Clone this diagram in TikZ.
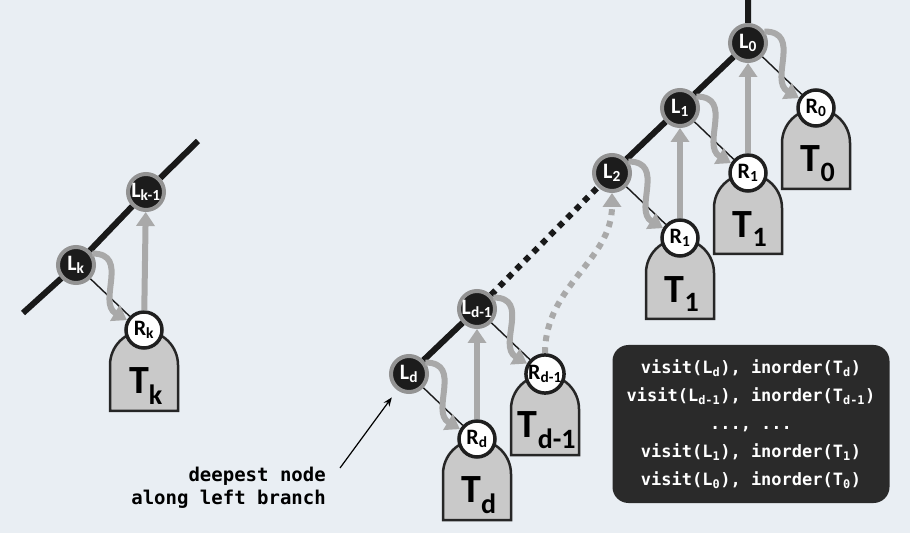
\documentclass[tikz,border=0pt]{standalone}
\usepackage{fontspec}
\setmainfont{Carlito}
\newfontfamily\codefont{DejaVu Sans Mono}
\usetikzlibrary{positioning,calc,arrows.meta,backgrounds}

\definecolor{bgcol}{HTML}{E9EEF3}
\definecolor{lfill}{HTML}{1C1C1C}
\definecolor{lring}{HTML}{939393}
\definecolor{climbgray}{HTML}{A9A9A9}
\definecolor{treefill}{HTML}{C9C9C9}
\definecolor{boxfill}{HTML}{2A2A2A}

\tikzset{
	lnode/.style={circle, fill=lfill, draw=lring, line width=4pt, minimum size=36pt, inner sep=0pt, text=white, font=\fontsize{22}{22}\selectfont\bfseries},
	rnode/.style={circle, fill=white, draw=black!88, line width=3.5pt, minimum size=36pt, inner sep=0pt, font=\fontsize{22}{22}\selectfont\bfseries},
	spine/.style={line width=6pt, draw=black!90},
	dotspine/.style={spine, dash pattern=on 6pt off 6pt},
	child/.style={line width=1.4pt, draw=black!90},
	visit/.style={line width=6pt, draw=climbgray, -{Triangle[width=18pt,length=14pt]}},
	climbdots/.style={visit, dash pattern=on 6pt off 6pt},
	treebox/.style={fill=treefill, draw=black!85, line width=2.5pt},
	tlabel/.style={inner sep=0pt, font=\fontsize{40}{40}\selectfont\bfseries},
	codebox/.style={fill=boxfill, rounded corners=16pt, minimum width=277pt, minimum height=158pt, text=white, align=center, font=\fontsize{17}{28}\selectfont\codefont\bfseries},
	note/.style={inner sep=0pt, align=right, font=\fontsize{19}{23}\selectfont\codefont\bfseries},
	pointer/.style={line width=1.2pt, -{Stealth[length=9pt,width=7pt]}, shorten >=9pt}
}

\newcommand{\subtree}[3]{% dome hanging below an R node
	\draw[treebox] ($(#1)+(-34,-81)$) -- ++(0,46) arc[start angle=180, end angle=0, radius=34pt] -- ++(0,-46) -- cycle;
	\node[tlabel] (#2) at ($(#1)+(2,-56)$) {#3};
}

\begin{document}
\begin{tikzpicture}[x=1pt, y=1pt, on grid, node distance=65pt and 68pt]
	\useasboundingbox (0,0) rectangle (910,533);
	\begin{scope}[on background layer]
		\fill[bgcol] (0,0) rectangle (910,533);
	\end{scope}
	
	% Left fragment of the branch
	\node[lnode] (Lk) at (76,268) {L\textsubscript{k}};
	\node[lnode, above right=73pt and 70pt of Lk] (Lk1) {L\textsubscript{k-1}};
	\node[rnode, below right=of Lk] (Rk) {R\textsubscript{k}};
	\coordinate (spineA) at (23,220); % lower free end
	\coordinate (spineB) at (198,392); % upper free end
	
	% Right part of the branch
	\node[lnode] (L0) at (748,490) {L\textsubscript{0}};
	\node[lnode, below left=of L0] (L1) {L\textsubscript{1}};
	\node[lnode, below left=of L1] (L2) {L\textsubscript{2}};
	\node[lnode, below left=136pt and 135pt of L2] (Ldm1) {L\textsubscript{d-1}};
	\node[lnode, below left=of Ldm1] (Ld) {L\textsubscript{d}};
	\coordinate (top) at (748,545); % towards the root
	
	% Right children
	\node[rnode, below right=of L0] (R0) {R\textsubscript{0}};
	\node[rnode, below right=of L1] (R1) {R\textsubscript{1}};
	\node[rnode, below right=of L2] (R1b) {R\textsubscript{1}};
	\node[rnode, below right=of Ldm1] (Rdm1) {R\textsubscript{d-1}};
	\node[rnode, below right=of Ld] (Rd) {R\textsubscript{d}};
	
	% Subtrees
	\begin{scope}[on background layer]
		\subtree{Rk}{Tk}{T\textsubscript{k}}
		\subtree{R0}{T0}{T\textsubscript{0}}
		\subtree{R1}{T1}{T\textsubscript{1}}
		\subtree{R1b}{T1b}{T\textsubscript{1}}
		\subtree{Rdm1}{Tdm1}{T\textsubscript{d-1}}
		\subtree{Rd}{Td}{T\textsubscript{d}}
	\end{scope}
	
	% Draw the left branch
	\draw[spine] (spineA) -- (Lk) -- (Lk1) -- (spineB);
	\draw[spine] (Ld) -- (Ldm1);
	\draw[dotspine] (Ldm1) -- (L2);
	\draw[spine] (L2) -- (L1) -- (L0) -- (top);
	
	% Visit L, then go down to R
	\foreach \l/\r in {Lk/Rk, L0/R0, L1/R1, L2/R1b, Ldm1/Rdm1, Ld/Rd} {
		\draw[child] (\l) -- (\r);
		\draw[visit] (\l.35) .. controls +(38,0) and +(-30,18) .. (\r.150);
	}
	
	% Climb back up the branch
	\foreach \r/\l in {Rk/Lk1, R1/L0, R1b/L1, Rd/Ldm1}
		\draw[visit] (\r) -- (\l);
	\draw[climbdots] (Rdm1) to[out=90, in=-90] (L2);
	
	% Label for the deepest node
	\node[note, anchor=east] (deepest) at (326,45) {deepest node\\along left branch};
	\coordinate (deeptail) at (340,65);
	\draw[pointer] (deeptail) -- (Ld);
	
	% Visiting order
	\node[codebox] (visits) at (751,109) {visit(L\textsubscript{d}), inorder(T\textsubscript{d})\\visit(L\textsubscript{d-1}), inorder(T\textsubscript{d-1})\\..., ...\\visit(L\textsubscript{1}), inorder(T\textsubscript{1})\\visit(L\textsubscript{0}), inorder(T\textsubscript{0})};
\end{tikzpicture}
\end{document}
